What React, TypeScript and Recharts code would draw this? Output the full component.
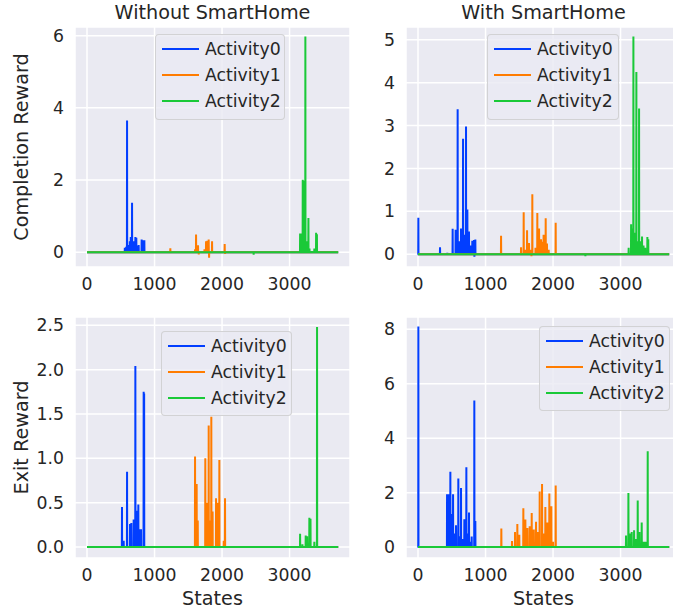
import React from 'react';
import { LineChart, Line, XAxis, YAxis, CartesianGrid, Legend } from 'recharts';

const FONT = '"DejaVu Sans", "Liberation Sans", sans-serif';
const TEXT = '#262626';
const BG = '#EAEAF2';

const activityNames = ['Activity0', 'Activity1', 'Activity2'];
const activityColors = ['#023EFF', '#FF7C00', '#1AC938'];
const lastState = 3720;
const xTicks = [0, 1000, 2000, 3000];
const xDomain: [number, number] = [-178, 3895];

type Pair = [number, number];

// Without SmartHome — Completion Reward
const woCompA0: Pair[] = [[560, 0.12], [580, 0.15], [593, 3.65], [620, 0.2], [634, 0.3], [648, 0.42], [667, 1.37], [690, 0.3], [716, 0.42], [730, 0.4], [745, 0.18], [765, 0.2], [809, 0.35], [825, 0.33], [849, 0.33]];
const woCompA1: Pair[] = [[1234, 0.11], [1600, 0.08], [1615, 0.49], [1644, 0.19], [1655, -0.06], [1740, 0.08], [1763, 0.3], [1782, 0.32], [1802, 0.35], [1808, -0.15], [1852, 0.3], [2039, 0.23], [2045, -0.05]];
const woCompA2: Pair[] = [[2468, -0.07], [3156, 0.52], [3170, 0.52], [3195, 2.01], [3215, 1.98], [3234, 5.98], [3250, 0.3], [3279, 0.95], [3295, 0.1], [3330, 0.03], [3367, 0.1], [3393, 0.54], [3405, 0.5]];

// With SmartHome — Completion Reward
const wCompA0: Pair[] = [[5, 0.85], [326, 0.16], [434, 0.03], [513, 0.59], [557, 0.57], [587, 3.38], [610, 0.3], [637, 0.6], [667, 2.69], [690, 0.45], [711, 2.98], [731, 1.04], [755, 0.53], [780, 0.2], [804, 0.31], [829, 0.33], [835, -0.06], [849, 0.34]];
const wCompA1: Pair[] = [[1230, 0.43], [1526, 0.16], [1565, 0.98], [1590, 0.1], [1615, 0.56], [1644, 0.26], [1670, 0.1], [1680, -0.05], [1693, 1.4], [1740, 0.15], [1767, 0.96], [1793, 0.6], [1822, 0.35], [1841, 0.29], [1860, 0.45], [1891, 0.84], [1910, 0.25], [1935, 0.1], [2039, 0.73]];
const wCompA2: Pair[] = [[2479, -0.05], [3081, 0.02], [3120, 0.15], [3156, 0.7], [3172, 0.6], [3190, 5.08], [3210, 0.5], [3234, 4.25], [3250, 0.3], [3274, 3.4], [3290, 0.3], [3318, 0.41], [3340, 0.2], [3365, 0.15], [3397, 0.4], [3410, 0.35]];

// Without SmartHome — Exit Reward
const woExitA0: Pair[] = [[518, 0.45], [543, 0.07], [593, 0.85], [637, 0.26], [656, 0.27], [691, 0.31], [716, 2.04], [741, 0.41], [760, 0.48], [775, 0.2], [800, 0.2], [839, 1.75], [846, 1.73]];
const woExitA1: Pair[] = [[1600, 1.02], [1624, 0.71], [1640, 0.3], [1752, 1.0], [1778, 0.5], [1802, 1.37], [1820, 0.3], [1841, 1.47], [1860, 0.4], [1911, 0.55], [1930, 0.5], [1960, 0.98], [2025, 0.07], [2044, 0.55]];
const woExitA2: Pair[] = [[3156, 0.15], [3190, 0.03], [3239, 0.13], [3260, 0.12], [3293, 0.33], [3310, 0.32], [3367, 0.06], [3407, 2.48]];

// With SmartHome — Exit Reward
const wExitA0: Pair[] = [[5, 8.1], [430, 1.94], [440, 0.3], [449, 1.94], [479, 2.77], [498, 1.22], [519, 1.94], [540, 0.5], [563, 0.8], [597, 2.52], [615, 0.4], [637, 2.17], [660, 0.3], [686, 1.02], [716, 2.93], [735, 0.5], [755, 1.27], [775, 0.2], [795, 0.39], [834, 5.38], [849, 0.96]];
const wExitA1: Pair[] = [[1234, 0.68], [1392, 0.22], [1437, 0.55], [1471, 0.85], [1500, 0.45], [1560, 1.43], [1590, 1.01], [1620, 0.7], [1654, 0.77], [1684, 1.25], [1715, 0.65], [1748, 0.93], [1775, 0.55], [1802, 2.04], [1837, 2.32], [1860, 0.5], [1886, 1.47], [1915, 0.9], [1945, 1.97], [1975, 1.5], [2000, 0.2], [2039, 2.26]];
const wExitA2: Pair[] = [[2479, 0.03], [3081, 0.43], [3116, 1.99], [3140, 0.5], [3165, 0.55], [3200, 0.62], [3225, 0.3], [3254, 1.71], [3280, 0.55], [3313, 0.9], [3340, 0.2], [3370, 0.2], [3402, 3.52]];

function toSeries(spikes: Pair[]) {
  const pts: { x: number; y: number }[] = [{ x: 0, y: 0 }];
  spikes.forEach(([s, v]) => {
    pts.push({ x: s - 2, y: 0 }, { x: s, y: v }, { x: s + 2, y: 0 });
  });
  pts.push({ x: lastState, y: 0 });
  pts.sort((a, b) => a.x - b.x);
  return pts;
}

const PLOT_LEFT = 75;
const PLOT_W = 275;

const panels = [
  {
    key: 'p1', left: 0, top: 0, plotTop: 27, plotH: 240, xAxisH: 34,
    yDomain: [-0.41, 6.24], yTicks: [0, 2, 4, 6], fmt: (v: number) => String(v),
    yLabel: 'Completion Reward', xLabel: null,
    series: [woCompA0, woCompA1, woCompA2],
    legend: { left: 155, top: 34, width: 130, height: 86 },
  },
  {
    key: 'p2', left: 331, top: 0, plotTop: 27, plotH: 240, xAxisH: 34,
    yDomain: [-0.3, 5.3], yTicks: [0, 1, 2, 3, 4, 5], fmt: (v: number) => String(v),
    yLabel: null, xLabel: null,
    series: [wCompA0, wCompA1, wCompA2],
    legend: { left: 156, top: 34, width: 132, height: 86 },
  },
  {
    key: 'p3', left: 0, top: 290, plotTop: 27, plotH: 241, xAxisH: 53,
    yDomain: [-0.124, 2.594], yTicks: [0, 0.5, 1, 1.5, 2, 2.5], fmt: (v: number) => v.toFixed(1),
    yLabel: 'Exit Reward', xLabel: 'States',
    series: [woExitA0, woExitA1, woExitA2],
    legend: { left: 161, top: 41, width: 131, height: 85 },
  },
  {
    key: 'p4', left: 331, top: 290, plotTop: 27, plotH: 241, xAxisH: 53,
    yDomain: [-0.4, 8.45], yTicks: [0, 2, 4, 6, 8], fmt: (v: number) => String(v),
    yLabel: null, xLabel: 'States',
    series: [wExitA0, wExitA1, wExitA2],
    legend: { left: 208, top: 36, width: 131, height: 85 },
  },
];

const titles = [
  { text: 'Without SmartHome', cx: 212.5 },
  { text: 'With SmartHome', cx: 543.5 },
];

const makeLegend = (box: { width: number; height: number }) => (props: any) => {
  const payload = props.payload || [];
  return (
    <div
      style={{
        boxSizing: 'border-box', width: box.width, height: box.height,
        background: 'rgba(234,234,242,0.8)', border: '1px solid rgba(204,204,204,0.8)',
        borderRadius: 4, paddingTop: 1, fontFamily: FONT,
      }}
    >
      {payload.map((p: any) => (
        <div key={p.value} style={{ display: 'flex', alignItems: 'center', height: 26, paddingLeft: 6 }}>
          <svg width={37} height={4} style={{ display: 'block' }}>
            <line x1={0} y1={2} x2={37} y2={2} stroke={p.color} strokeWidth={2} />
          </svg>
          <span style={{ marginLeft: 6, fontSize: 17.3, color: TEXT, lineHeight: '26px', whiteSpace: 'nowrap' }}>{p.value}</span>
        </div>
      ))}
    </div>
  );
};

const RotLabel = ({ labelText, posX, posY }: { labelText: string; posX: number; posY: number }) => (
  <text x={posX} y={posY} transform={`rotate(-90 ${posX} ${posY})`} textAnchor="middle" fill={TEXT} fontSize={19.2} fontFamily={FONT}>
    {labelText}
  </text>
);

const XLabel = ({ labelText, posX, posY }: { labelText: string; posX: number; posY: number }) => (
  <text x={posX} y={posY} textAnchor="middle" fill={TEXT} fontSize={19.2} fontFamily={FONT}>
    {labelText}
  </text>
);

export default function App() {
  return (
    <div style={{ position: 'absolute', left: 0, top: 0, width: 673, height: 611, overflow: 'hidden', background: '#fff', fontFamily: FONT }}>
      {titles.map((t) => (
        <div key={t.text} style={{ position: 'absolute', top: 2.8, left: t.cx - 150, width: 300, textAlign: 'center', fontSize: 19.2, lineHeight: 1, color: TEXT, fontFamily: FONT }}>
          {t.text}
        </div>
      ))}
      {panels.map((p) => {
        const height = p.plotTop + p.plotH + p.xAxisH;
        const width = PLOT_LEFT + PLOT_W + 10;
        return (
          <div key={p.key} style={{ position: 'absolute', left: p.left, top: p.top, width, height }}>
            <LineChart width={width} height={height} margin={{ top: p.plotTop, right: 10, left: 0, bottom: 0 }}>
              <CartesianGrid fill={BG} stroke="#FFFFFF" strokeWidth={1.5} />
              <XAxis
                dataKey="x" type="number" domain={xDomain} ticks={xTicks} allowDataOverflow
                axisLine={false} tickLine={false} tickSize={0} tickMargin={11} height={p.xAxisH}
                tick={{ fill: TEXT, fontSize: 17.3, fontFamily: FONT }}
                label={p.xLabel ? <XLabel labelText={p.xLabel} posX={PLOT_LEFT + PLOT_W / 2} posY={p.plotTop + p.plotH + 47} /> : undefined}
              />
              <YAxis
                type="number" domain={p.yDomain} ticks={p.yTicks} allowDataOverflow width={PLOT_LEFT}
                axisLine={false} tickLine={false} tickSize={0} tickMargin={11} tickFormatter={p.fmt}
                tick={{ fill: TEXT, fontSize: 17.3, fontFamily: FONT }}
                label={p.yLabel ? <RotLabel labelText={p.yLabel} posX={28} posY={p.plotTop + p.plotH / 2} /> : undefined}
              />
              {p.series.map((s, i) => (
                <Line
                  key={activityNames[i]} data={toSeries(s)} dataKey="y" name={activityNames[i]}
                  type="linear" stroke={activityColors[i]} strokeWidth={2} dot={false} activeDot={false}
                  isAnimationActive={false}
                />
              ))}
              <Legend
                layout="vertical" align="center" verticalAlign="middle"
                wrapperStyle={{ left: p.legend.left, top: p.legend.top, width: p.legend.width, height: p.legend.height }}
                content={makeLegend(p.legend)}
              />
            </LineChart>
          </div>
        );
      })}
    </div>
  );
}
